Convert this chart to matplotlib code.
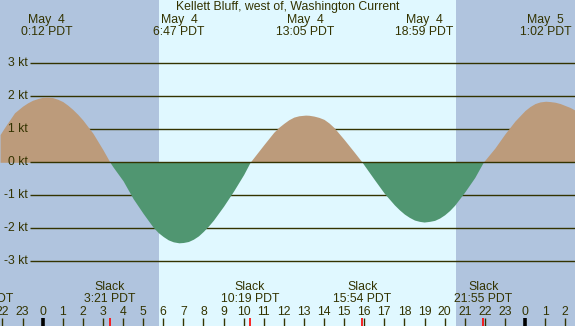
import numpy as np
import matplotlib
matplotlib.use("Agg")
import matplotlib.pyplot as plt
import matplotlib.transforms as mtransforms

# ---------------- data ----------------
title = "Kellett Bluff, west of, Washington Current"

# current speed (kt), hours relative to May 4 00:00
hours = [-2.12, -1.9, -1.4, -1.0, -0.75, -0.5, -0.25, 0.0, 0.2, 0.5, 0.75, 1.0, 1.25, 1.5, 1.75,
         2.0, 2.5, 3.0, 3.35,
         3.5, 4.0, 4.5, 5.0, 5.5, 5.75, 6.0, 6.25, 6.5, 6.78, 7.0, 7.25, 7.5, 7.75, 8.0, 8.25,
         8.5, 9.0, 9.5, 10.0, 10.32,
         10.5, 11.0, 11.5, 11.75, 12.0, 12.25, 12.5, 12.75, 13.08, 13.25, 13.5, 13.75, 14.0, 14.25,
         14.5, 15.0, 15.5, 15.9,
         16.0, 16.5, 17.0, 17.5, 17.75, 18.0, 18.25, 18.5, 18.75, 18.98, 19.25, 19.5, 19.75, 20.0,
         20.25, 20.5, 21.0, 21.5, 21.92,
         22.5, 23.0, 23.5, 24.0, 24.25, 24.5, 24.75, 25.03, 25.25, 25.5, 25.75, 26.0, 26.25, 26.49]
speed = [0.84, 1.05, 1.50, 1.70, 1.80, 1.88, 1.93, 1.97, 1.98, 1.96, 1.91, 1.84, 1.73, 1.60, 1.45,
         1.28, 0.88, 0.38, 0.0,
         -0.14, -0.56, -1.10, -1.55, -1.97, -2.13, -2.25, -2.35, -2.41, -2.44, -2.43, -2.40, -2.33, -2.23, -2.09, -1.93,
         -1.75, -1.33, -0.87, -0.37, 0.0,
         0.14, 0.53, 0.91, 1.06, 1.18, 1.29, 1.37, 1.41, 1.43, 1.425, 1.40, 1.36, 1.30, 1.19,
         1.05, 0.69, 0.31, 0.0,
         -0.09, -0.52, -0.94, -1.29, -1.44, -1.57, -1.67, -1.75, -1.79, -1.81, -1.79, -1.76, -1.69, -1.59,
         -1.46, -1.30, -0.90, -0.46, 0.0,
         0.43, 0.86, 1.25, 1.57, 1.69, 1.78, 1.83, 1.85, 1.84, 1.82, 1.78, 1.72, 1.66, 1.58]

# max/min events (top labels)
event_hours = [0.2, 6.78, 13.08, 18.98, 25.03]
event_dates = ["May  4", "May  4", "May  4", "May  4", "May  5"]
event_times = ["0:12 PDT", "6:47 PDT", "13:05 PDT", "18:59 PDT", "1:02 PDT"]

# slack events (bottom labels)
slack_hours = [-2.9, 3.35, 10.32, 15.9, 21.92]
slack_times = ["21:06 PDT", "3:21 PDT", "10:19 PDT", "15:54 PDT", "21:55 PDT"]

# daylight
sunrise, sunset = 5.79, 20.57

y_ticks = [3, 2, 1, 0, -1, -2, -3]
hour_ticks = list(range(-2, 27))

# ---------------- style ----------------
NIGHT = "#b0c4de"
DAY = "#e0f8ff"
EBB = "#bc9b7b"
FLOOD = "#509671"
INK = "#333300"
FONT = ["Liberation Sans", "DejaVu Sans"]
FS = 8.8

W, H = 575, 326
fig = plt.figure(figsize=(W / 100, H / 100), dpi=100)
ax = fig.add_axes([0, 0, 1, 1])
ax.set_facecolor(NIGHT)
x0, x1 = -2.123, 26.488
zero_px, px_per_kt = 162.3, 33.0
ax.set_xlim(x0, x1)
ax.set_ylim((zero_px - H) / px_per_kt, zero_px / px_per_kt)
ax.axis("off")
fig.patch.set_facecolor(NIGHT)

ax.add_patch(plt.Rectangle((x0, -10), x1 - x0, 20, color=NIGHT, zorder=0))
ax.axvspan(sunrise, sunset, color=DAY, zorder=0.5, lw=0)

h = np.array(hours)
v = np.array(speed)

blend = mtransforms.blended_transform_factory(ax.transAxes, ax.transData)
gx0 = 30 / W
for yt in y_ticks:
    ax.plot([gx0, 1], [yt, yt], transform=blend, color=INK, lw=1.0,
            zorder=3 if yt == 0 else 1, solid_capstyle="butt")
    ax.text(28 / W, yt, f"{yt} kt", transform=blend, ha="right", va="center",
            fontsize=FS, color=INK, family=FONT)

ax.fill_between(h, np.clip(v, 0, None), 0, color=EBB, lw=0, zorder=2)
ax.fill_between(h, np.clip(v, None, 0), 0, color=FLOOD, lw=0, zorder=2)

bx = mtransforms.blended_transform_factory(ax.transData, ax.transAxes)

def yfrac(px):
    return 1 - px / H

ax.text(0.5, yfrac(7), title, transform=ax.transAxes, ha="center", va="center",
        fontsize=FS, color=INK, family=FONT)

for eh, d, t in zip(event_hours, event_dates, event_times):
    ax.text(eh, yfrac(19.5), d, transform=bx, ha="center", va="center",
            fontsize=FS, color=INK, family=FONT)
    ax.text(eh, yfrac(32), t, transform=bx, ha="center", va="center",
            fontsize=FS, color=INK, family=FONT)

for sh, t in zip(slack_hours, slack_times):
    ax.text(sh, yfrac(287.5), "Slack", transform=bx, ha="center", va="center",
            fontsize=FS, color=INK, family=FONT)
    ax.text(sh, yfrac(299.5), t, transform=bx, ha="center", va="center",
            fontsize=FS, color=INK, family=FONT)

tick_top = yfrac(318)
for ht in hour_ticks:
    lab = str(ht % 24)
    ax.text(ht, yfrac(312), lab, transform=bx, ha="center", va="center",
            fontsize=FS, color=INK, family=FONT)
    if ht % 24 == 0:
        ax.plot([ht, ht], [0, tick_top], transform=bx, color="#000000", lw=2.6,
                solid_capstyle="butt", zorder=4)
    else:
        ax.plot([ht, ht], [0, tick_top], transform=bx, color=INK, lw=1.0,
                solid_capstyle="butt", zorder=4)
for sh in slack_hours:
    ax.plot([sh, sh], [0, tick_top], transform=bx, color="#ff0000", lw=1.2,
            solid_capstyle="butt", zorder=5)

fig.savefig("out.png", dpi=100, facecolor=NIGHT)
